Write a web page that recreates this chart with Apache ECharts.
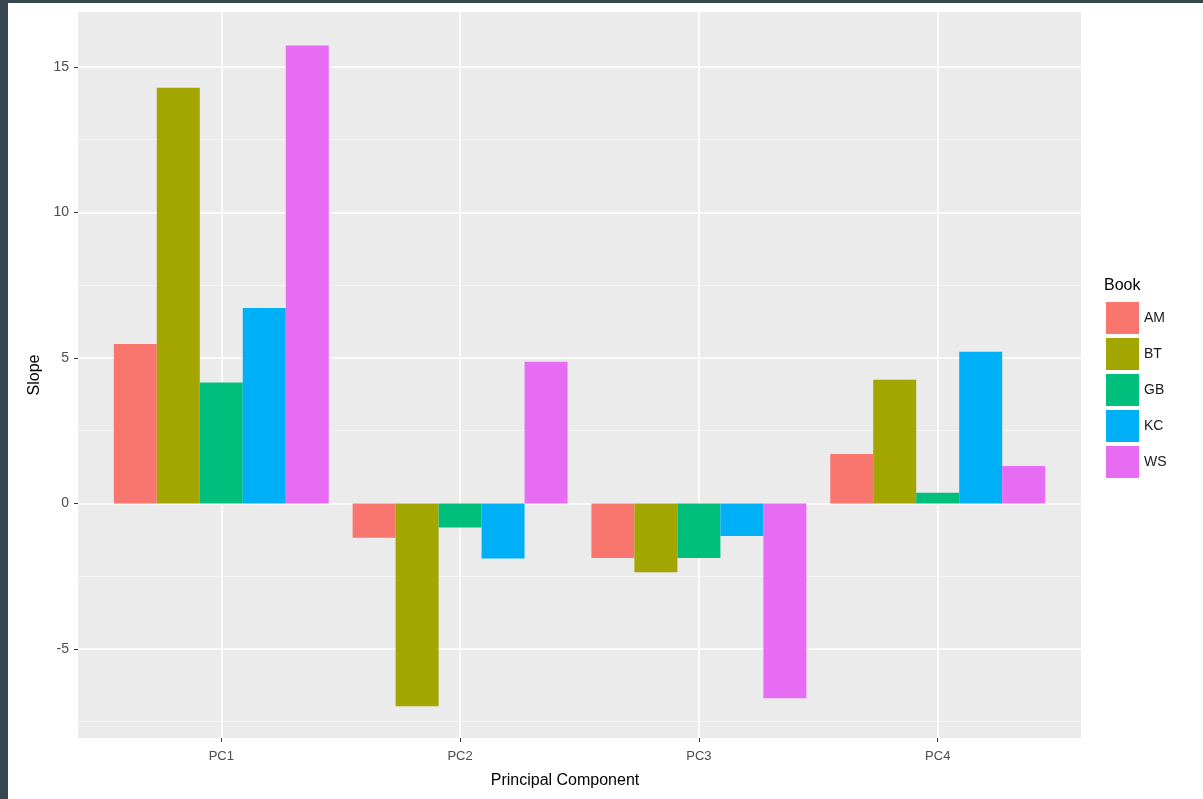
<!DOCTYPE html>
<html>
<head>
<meta charset="utf-8">
<script src="https://cdn.jsdelivr.net/npm/echarts@6/dist/echarts.min.js"></script>
<style>
html,body{margin:0;padding:0;background:#fff;}
#c{width:1203px;height:799px;}
</style>
</head>
<body>
<div id="c"></div>
<script>
const categories = ['PC1', 'PC2', 'PC3', 'PC4'];
const books = ['AM', 'BT', 'GB', 'KC', 'WS'];
const AM = [5.48, -1.18, -1.87, 1.70];
const BT = [14.29, -6.97, -2.36, 4.25];
const GB = [4.16, -0.83, -1.87, 0.37];
const KC = [6.72, -1.89, -1.12, 5.21];
const WS = [15.74, 4.87, -6.69, 1.29];
const yMajorTicks = [-5, 0, 5, 10, 15];
const yMinorTicks = [-7.5, -2.5, 2.5, 7.5, 12.5];
const xTickPositions = [1, 2, 3, 4];
const colors = ['#F8766D', '#A3A500', '#00BF7D', '#00B0F6', '#E76BF3'];

const seriesValues = [AM, BT, GB, KC, WS];
const font = 'Liberation Sans, Arial, Helvetica, sans-serif';

const panelLeft = 78, panelTop = 12, panelW = 1003, panelH = 726;
const band = panelW / 4.2;
const yMin = -8.06, yMax = 16.89;

const chart = echarts.init(document.getElementById('c'), null, {renderer: 'canvas'});

const option = {
  animation: false,
  backgroundColor: '#ffffff',
  color: colors,
  textStyle: {fontFamily: font},
  title: {
    text: 'Book',
    left: 1104,
    top: 278,
    padding: 0,
    textStyle: {fontSize: 16, fontWeight: 'normal', color: '#000', fontFamily: font}
  },
  legend: {
    data: books,
    orient: 'vertical',
    left: 1106,
    top: 302,
    padding: 0,
    itemWidth: 33,
    itemHeight: 32,
    itemGap: 4,
    icon: 'rect',
    textStyle: {fontSize: 14, color: '#1A1A1A', fontFamily: font}
  },
  graphic: [
    {type: 'rect', left: 0, top: 0, shape: {width: 8, height: 799}, style: {fill: '#37474F'}, z: 100},
    {type: 'rect', left: 0, top: 0, shape: {width: 1203, height: 3}, style: {fill: '#37474F'}, z: 100}
  ],
  grid: [
    {left: panelLeft, top: panelTop, width: panelW, height: panelH, show: true, backgroundColor: '#EBEBEB', borderWidth: 0, containLabel: false},
    {left: panelLeft + 0.1 * band, top: panelTop, width: 4 * band, height: panelH, show: false, containLabel: false}
  ],
  xAxis: [
    {
      gridIndex: 0, type: 'value', min: 0.4, max: 4.6,
      position: 'bottom',
      axisLine: {show: false, onZero: false},
      axisTick: {show: true, length: 4, lineStyle: {color: '#333333', width: 1}, customValues: xTickPositions},
      axisLabel: {show: false, customValues: xTickPositions},
      splitLine: {show: true, lineStyle: {color: '#ffffff', width: 1.6}},
      name: 'Principal Component',
      nameLocation: 'middle',
      nameGap: 35,
      nameTextStyle: {fontSize: 16, color: '#000', fontFamily: font, padding: [0, 29, 0, 0]}
    },
    {
      gridIndex: 1, type: 'category', data: categories,
      position: 'bottom',
      axisLine: {show: false, onZero: false},
      axisTick: {show: false},
      axisLabel: {color: '#4D4D4D', fontSize: 13, margin: 12, fontFamily: font},
      splitLine: {show: false}
    }
  ],
  yAxis: [
    {
      gridIndex: 0, type: 'value', min: yMin, max: yMax,
      position: 'left',
      axisLine: {show: false, onZero: false},
      axisTick: {show: true, length: 4, lineStyle: {color: '#333333', width: 1}, customValues: yMajorTicks},
      axisLabel: {color: '#4D4D4D', fontSize: 14, margin: 9, fontFamily: font, customValues: yMajorTicks},
      splitLine: {show: true, lineStyle: {color: '#ffffff', width: 1.6}},
      name: 'Slope',
      nameLocation: 'middle',
      nameRotate: 90,
      nameGap: 35,
      nameTextStyle: {fontSize: 16, color: '#000', fontFamily: font}
    },
    {
      gridIndex: 0, type: 'value', min: yMin, max: yMax,
      position: 'left',
      axisLine: {show: false, onZero: false},
      axisTick: {show: false, customValues: yMinorTicks},
      axisLabel: {show: false, customValues: yMinorTicks},
      splitLine: {show: true, lineStyle: {color: '#F7F7F7', width: 0.8}}
    },
    {
      gridIndex: 1, type: 'value', min: yMin, max: yMax,
      show: false,
      splitLine: {show: false}
    }
  ],
  series: books.map((b, i) => ({
    name: b,
    type: 'bar',
    xAxisIndex: 1,
    yAxisIndex: 2,
    data: seriesValues[i],
    barGap: '0%',
    barCategoryGap: '10%',
    itemStyle: {color: colors[i]},
    z: 3
  }))
};

chart.setOption(option);
</script>
</body>
</html>
